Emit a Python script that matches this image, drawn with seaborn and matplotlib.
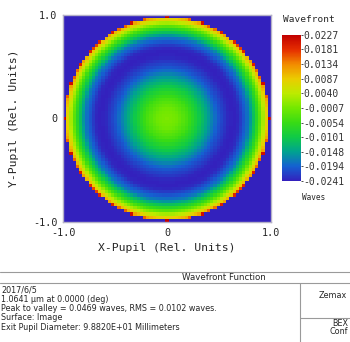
import numpy as np
import pandas as pd
import matplotlib
matplotlib.use("Agg")
import matplotlib.pyplot as plt
from matplotlib.colors import LinearSegmentedColormap
import seaborn as sns

# Radial wavefront profile (waves) across the normalized exit pupil
PROFILE_R = [0.0, 0.1, 0.2, 0.3, 0.4, 0.5, 0.6, 0.65, 0.7, 0.8, 0.9, 0.95, 0.97, 0.99, 1.0]
PROFILE_W = [0.0000, -0.0011, -0.0044, -0.0093, -0.0149, -0.0202, -0.0236,
             -0.0241, -0.0234, -0.0173, -0.0040, 0.0045, 0.0080, 0.0120, 0.0227]
GRID_N = 65

CBAR_TICKS = [0.0227, 0.0181, 0.0134, 0.0087, 0.0040, -0.0007, -0.0054,
              -0.0101, -0.0148, -0.0194, -0.0241]
W_MIN, W_MAX = -0.0241, 0.0227

AXIS_TICKS = [-1.0, 0.0, 1.0]
AXIS_TICK_LABELS = ["-1.0", "0", "1.0"]

INFO_LINES = [
    "2017/6/5",
    "1.0641 \u00b5m at 0.0000 (deg)",
    "Peak to valley = 0.0469 waves, RMS = 0.0102 waves.",
    "Surface: Image",
    "Exit Pupil Diameter: 9.8820E+01 Millimeters",
]

sns.set_style("white")
plt.rcParams["font.family"] = ["DejaVu Sans Mono", "DejaVu Sans"]
plt.rcParams["axes.unicode_minus"] = False

# False-colour map: violet-blue -> teal -> green -> yellow -> red
cmap = LinearSegmentedColormap.from_list("falsecolor", [
    (0.00, (0.20, 0.13, 0.74)),
    (0.10, (0.08, 0.38, 0.82)),
    (0.20, (0.00, 0.64, 0.56)),
    (0.30, (0.06, 0.79, 0.28)),
    (0.40, (0.22, 0.86, 0.08)),
    (0.50, (0.45, 0.91, 0.00)),
    (0.60, (0.74, 0.92, 0.00)),
    (0.70, (0.92, 0.80, 0.00)),
    (0.80, (0.95, 0.55, 0.00)),
    (0.90, (0.90, 0.18, 0.00)),
    (1.00, (0.76, 0.00, 0.00)),
])

coords = np.linspace(-1.0, 1.0, GRID_N)
xx, yy = np.meshgrid(coords, coords[::-1])
rr = np.hypot(xx, yy)
wave = np.interp(rr, PROFILE_R, PROFILE_W)
wave[rr > 1.0 + 1e-9] = W_MIN
df = pd.DataFrame(wave, index=np.round(coords[::-1], 3), columns=np.round(coords, 3))

W, H = 350, 342
fig = plt.figure(figsize=(W / 100, H / 100), dpi=100)
ax = fig.add_axes([63 / W, 1 - 222 / H, 208 / W, 207 / H])
cax = fig.add_axes([282 / W, 1 - 181 / H, 19 / W, 146 / H])

sns.heatmap(df, ax=ax, cmap=cmap, vmin=W_MIN, vmax=W_MAX, cbar_ax=cax,
            cbar_kws={"ticks": CBAR_TICKS}, xticklabels=False, yticklabels=False)

# Map pupil coordinates onto heatmap cell positions
def to_cell(v):
    return (v + 1.0) / 2.0 * GRID_N

ax.set_xticks([to_cell(v) for v in AXIS_TICKS])
ax.set_xticklabels(AXIS_TICK_LABELS, fontsize=7.3)
ax.set_yticks([GRID_N - to_cell(v) for v in AXIS_TICKS])
ax.set_yticklabels(AXIS_TICK_LABELS, fontsize=7.3, rotation=0)
ax.tick_params(length=0, pad=4)
ax.set_xlabel("X-Pupil (Rel. Units)", fontsize=8.2, labelpad=4)
ax.set_ylabel("Y-Pupil (Rel. Units)", fontsize=8.2, labelpad=10)
for sp in ax.spines.values():
    sp.set_visible(True)
    sp.set_color("#b4b0c8")
    sp.set_linewidth(1.0)

cbar = ax.collections[0].colorbar
cbar.outline.set_visible(False)
cax.set_yticks(CBAR_TICKS)
cax.set_yticklabels([f"{t:.4f}" for t in CBAR_TICKS], fontsize=7)
cax.tick_params(length=1.5, width=0.6, pad=0.5, colors="#333333")
fig.text(283 / W, 1 - 20 / H, "Wavefront", fontsize=6.8, ha="left", va="center")
fig.text(302 / W, 1 - 198 / H, "Waves", fontsize=5.6, ha="left", va="center")

# Report block below the plot
sans = ["DejaVu Sans"]
line_kw = dict(color="#9a9a9a", linewidth=0.8, transform=fig.transFigure)
fig.add_artist(plt.Line2D([0, 1], [1 - 272 / H, 1 - 272 / H], **line_kw))
fig.add_artist(plt.Line2D([0, 1], [1 - 283 / H, 1 - 283 / H], **line_kw))
fig.add_artist(plt.Line2D([300 / W, 300 / W], [0, 1 - 283 / H], **line_kw))
fig.add_artist(plt.Line2D([300 / W, 1], [1 - 318 / H, 1 - 318 / H], **line_kw))
fig.text(224 / W, 1 - 278 / H, "Wavefront Function", fontsize=6.2,
         family=sans, ha="center", va="center")
for i, line in enumerate(INFO_LINES):
    fig.text(1 / W, 1 - (290 + i * 9.3) / H, line, fontsize=5.8,
             family=sans, ha="left", va="center")
fig.text(347 / W, 1 - 295 / H, "Zemax", fontsize=5.8, family=sans,
         ha="right", va="center")
fig.text(348 / W, 1 - 324 / H, "BEX", fontsize=5.8, family=sans,
         ha="right", va="center")
fig.text(348 / W, 1 - 332 / H, "Conf", fontsize=5.8, family=sans,
         ha="right", va="center")

fig.savefig("out.png", dpi=100)
